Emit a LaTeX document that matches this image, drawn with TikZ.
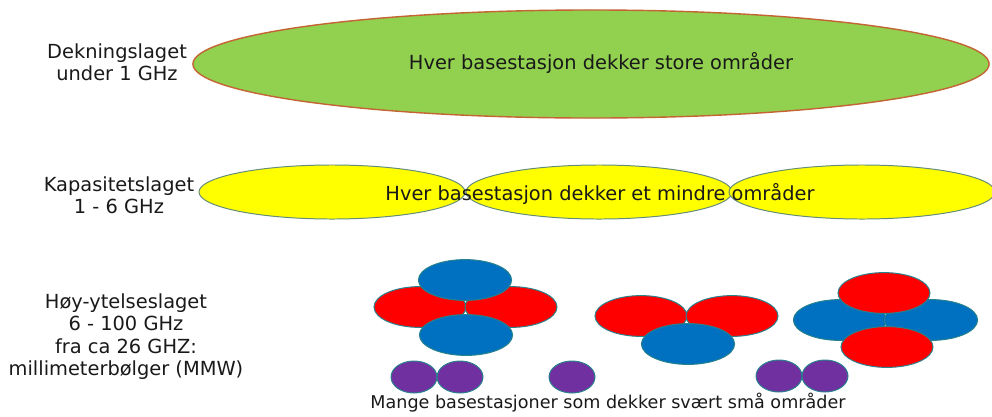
\documentclass[tikz,border=0pt]{standalone}
\usepackage{fontspec}
\setmainfont{DejaVu Sans}
\usepackage{xcolor}
\usetikzlibrary{shapes.geometric}

\definecolor{lagGreen}{RGB}{146,208,80}
\definecolor{lagOrange}{RGB}{196,100,50}
\definecolor{lagYellow}{RGB}{255,255,0}
\definecolor{lagGrey}{RGB}{100,140,120}
\definecolor{cellRed}{RGB}{255,0,0}
\definecolor{cellBlue}{RGB}{0,112,192}
\definecolor{cellPurple}{RGB}{112,48,160}
\definecolor{cellTeal}{RGB}{40,130,140}
\definecolor{lagText}{RGB}{25,25,25}

\begin{document}
\begin{tikzpicture}[
  x=0.025cm,
  y=-0.025cm,
  txt/.style={
    font=\fontsize{13.8}{16}\selectfont,
    text=lagText,
    inner sep=0pt
  },
  layer/.style={txt, align=center, anchor=north},
  cell/.style={
    ellipse,
    draw,
    line width=0.7pt,
    inner sep=0pt
  },
  greencell/.style={cell, fill=lagGreen, draw=lagOrange, line width=1pt,
    minimum width=19.9cm, minimum height=2.7cm},
  yellowcell/.style={cell, fill=lagYellow, draw=lagGrey,
    minimum width=6.65cm, minimum height=1.35cm},
  redcell/.style={cell, fill=cellRed, draw=cellTeal,
    minimum width=2.3cm, minimum height=1.02cm},
  bluecell/.style={cell, fill=cellBlue, draw=cellTeal,
    minimum width=2.33cm, minimum height=1.02cm},
  purplecell/.style={cell, fill=cellPurple, draw=cellTeal,
    minimum width=1.15cm, minimum height=0.8cm}
]
\useasboundingbox (0,0) rectangle (992,416);

% dekningslaget
\node[greencell] (cover) at (591,64) {};
\node[txt, anchor=base] (covertext) at (601,69)
{Hver basestasjon dekker store områder};
\node[layer] (coverlabel) at (117,43) {Dekningslaget\\under 1 GHz};

% kapasitetslaget
\node[yellowcell] (cap1) at (332,192) {};
\node[yellowcell] (cap2) at (599,192) {};
\node[yellowcell] (cap3) at (862,192) {};
\node[txt, anchor=base] (captext) at (600,200)
{Hver basestasjon dekker et mindre områder};
\node[layer] (caplabel) at (119,176) {Kapasitetslaget\\1 - 6 GHz};

% høy-ytelseslaget
\node[redcell] (ra1) at (420,307) {};
\node[redcell] (ra2) at (511,307) {};
\node[bluecell] (ba1) at (465,280) {};
\node[bluecell] (ba2) at (466,335) {};

\node[redcell] (rb1) at (641,316) {};
\node[redcell] (rb2) at (732,316) {};
\node[bluecell] (bb1) at (688,344) {};

\node[bluecell] (bc1) at (840,320) {};
\node[bluecell] (bc2) at (931,320) {};
\node[redcell] (rc1) at (884,293) {};
\node[redcell] (rc2) at (887,347) {};

\node[purplecell] (p1) at (414,377) {};
\node[purplecell] (p2) at (460,377) {};
\node[purplecell] (p3) at (572,377) {};
\node[purplecell] (p4) at (779,376) {};
\node[purplecell] (p5) at (825,376) {};

\node[txt, font=\fontsize{12.5}{15}\selectfont, anchor=base] (hightext) at (608,408)
{Mange basestasjoner som dekker svært små områder};
\node[layer] (highlabel) at (126,293)
{Høy-ytelseslaget\\6 - 100 GHz\\fra ca 26 GHZ:\\millimeterbølger (MMW)};

\end{tikzpicture}
\end{document}
